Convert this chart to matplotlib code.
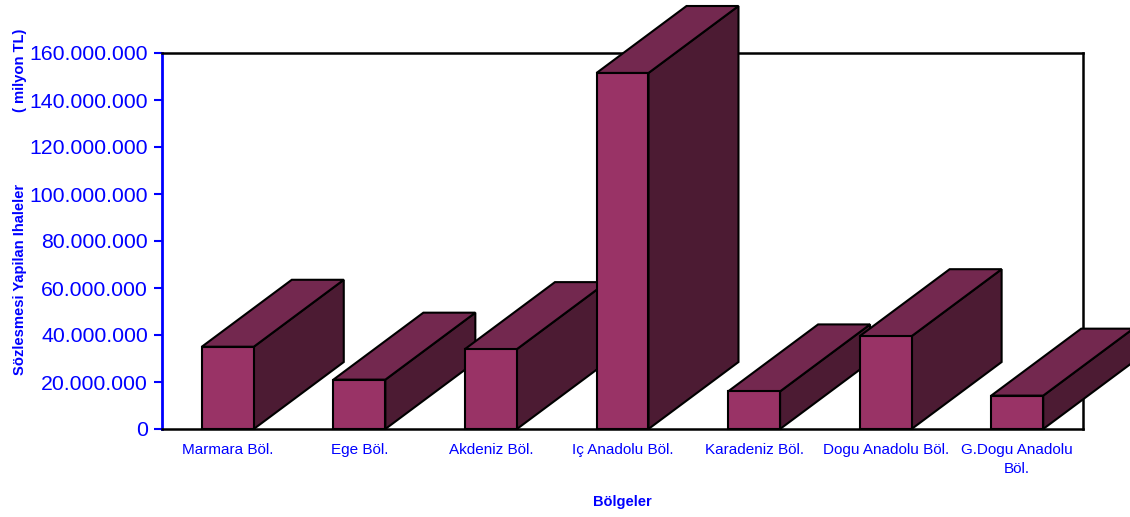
import matplotlib
matplotlib.use("Agg")
import matplotlib.pyplot as plt
from matplotlib.patches import Polygon
from matplotlib.ticker import FuncFormatter

categories = ["Marmara Böl.", "Ege Böl.", "Akdeniz Böl.", "Iç Anadolu Böl.",
              "Karadeniz Böl.", "Dogu Anadolu Böl.", "G.Dogu Anadolu\nBöl."]
values = [35.0e6, 21.0e6, 34.0e6, 151.5e6, 16.0e6, 39.5e6, 14.2e6]
yticks = [0, 20e6, 40e6, 60e6, 80e6, 100e6, 120e6, 140e6, 160e6]

plt.rcParams['font.family'] = ['Liberation Sans', 'DejaVu Sans']
BLUE = '#0000ff'
FRONT = '#993366'
TOP = '#73284f'
SIDE = '#4c1b33'

fig = plt.figure(figsize=(11.3, 5.17), dpi=100)
ax = fig.add_axes([162/1130, 1-429/517, (1083-162)/1130, (429-53)/517])
ax.set_xlim(-0.5, len(categories) - 0.5)
ax.set_ylim(0, 160e6)

w = 0.395
dx = 0.684
dy = 28.5e6
for i, v in enumerate(values):
    x0 = i - w / 2
    x1 = x0 + w
    side = Polygon([(x1, 0), (x1 + dx, dy), (x1 + dx, v + dy), (x1, v)], closed=True,
                   facecolor=SIDE, edgecolor='black', lw=1.5, zorder=3 + i, clip_on=False)
    top = Polygon([(x0, v), (x1, v), (x1 + dx, v + dy), (x0 + dx, v + dy)], closed=True,
                  facecolor=TOP, edgecolor='black', lw=1.5, zorder=3 + i, clip_on=False)
    front = Polygon([(x0, 0), (x1, 0), (x1, v), (x0, v)], closed=True,
                    facecolor=FRONT, edgecolor='black', lw=1.5, zorder=3 + i, clip_on=False)
    for p in (side, top, front):
        ax.add_patch(p)

ax.set_yticks(yticks)
ax.yaxis.set_major_formatter(FuncFormatter(lambda y, p: f"{int(round(y)):,}".replace(",", ".")))
ax.tick_params(axis='y', colors=BLUE, labelsize=15.3, length=6, width=1.5, pad=4, direction='out')
ax.set_xticks(range(len(categories)))
ax.set_xticklabels(categories, fontsize=11, color=BLUE, linespacing=1.5)
ax.tick_params(axis='x', length=0, pad=10)
for lbl in ax.get_xticklabels():
    lbl.set_verticalalignment('top')

for s in ('top', 'right', 'bottom'):
    ax.spines[s].set_color('black')
    ax.spines[s].set_linewidth(1.8)
ax.spines['left'].set_color(BLUE)
ax.spines['left'].set_linewidth(2)

fig.text(20/1130, 1-279/517, "Sözlesmesi Yapilan Ihaleler", rotation=90, color=BLUE,
         fontsize=10.6, fontweight='bold', ha='center', va='center')
fig.text(20/1130, 1-70/517, "( milyon TL)", rotation=90, color=BLUE,
         fontsize=10.6, fontweight='bold', ha='center', va='center')
fig.text(622/1130, 1-502/517, "Bölgeler", color=BLUE, fontsize=10.5,
         fontweight='bold', ha='center', va='center')

fig.savefig("out.png", dpi=100)
